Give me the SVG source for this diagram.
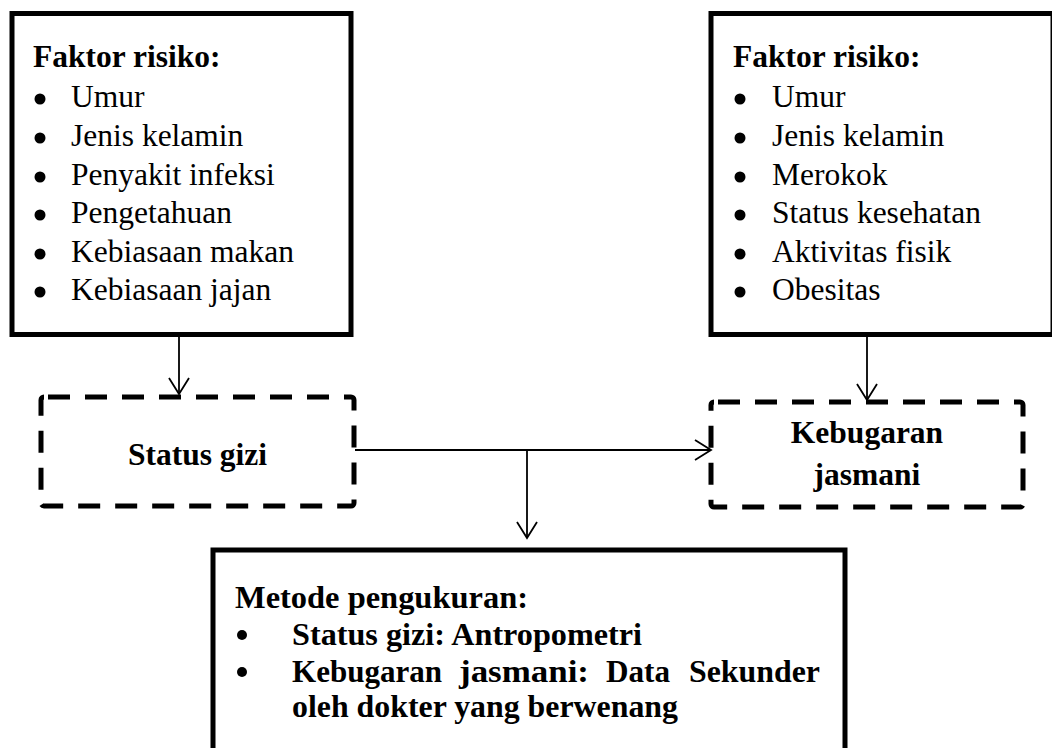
<svg xmlns="http://www.w3.org/2000/svg" width="1052" height="748" viewBox="0 0 1052 748">
<style>
.box{fill:#fff;stroke:#000;stroke-width:5}
.dash{fill:none;stroke:#000;stroke-width:5;stroke-dasharray:22 15;stroke-linejoin:round}
.conn{fill:none;stroke:#000;stroke-width:1.8}
.t{font-family:"Liberation Serif","Times New Roman",serif;font-size:31.5px;fill:#000}
.b{font-weight:bold}
.m{font-size:32px}
</style>
<defs>
<marker id="arr" markerWidth="20" markerHeight="24" refX="17" refY="11" orient="auto" markerUnits="userSpaceOnUse">
<path d="M1,1 L17,11 L1,21" fill="none" stroke="#000" stroke-width="1.8"/>
</marker>
</defs>
<rect width="1052" height="748" fill="#fff"/>
<g id="faktor-kiri">
<rect class="box" x="12" y="13.5" width="339" height="321"/>
<text class="t b" x="33" y="67">Faktor risiko:</text>
<g fill="#000"><circle cx="40" cy="99" r="5.5"/><circle cx="40" cy="138" r="5.5"/><circle cx="40" cy="177" r="5.5"/><circle cx="40" cy="215" r="5.5"/><circle cx="40" cy="254" r="5.5"/><circle cx="40" cy="292" r="5.5"/></g>
<text class="t" x="71" y="107">Umur</text>
<text class="t" x="71" y="146">Jenis kelamin</text>
<text class="t" x="71" y="185">Penyakit infeksi</text>
<text class="t" x="71" y="223">Pengetahuan</text>
<text class="t" x="71" y="262">Kebiasaan makan</text>
<text class="t" x="71" y="300">Kebiasaan jajan</text>
</g>
<g id="faktor-kanan">
<rect class="box" x="711" y="13.5" width="342" height="321"/>
<text class="t b" x="733" y="67">Faktor risiko:</text>
<g fill="#000"><circle cx="740" cy="99" r="5.5"/><circle cx="740" cy="138" r="5.5"/><circle cx="740" cy="177" r="5.5"/><circle cx="740" cy="215" r="5.5"/><circle cx="740" cy="254" r="5.5"/><circle cx="740" cy="292" r="5.5"/></g>
<text class="t" x="772" y="107">Umur</text>
<text class="t" x="772" y="146">Jenis kelamin</text>
<text class="t" x="772" y="185">Merokok</text>
<text class="t" x="772" y="223">Status kesehatan</text>
<text class="t" x="772" y="262">Aktivitas fisik</text>
<text class="t" x="772" y="300">Obesitas</text>
</g>
<g id="status-gizi">
<rect class="dash" x="41" y="397" width="313" height="109" rx="3" stroke-dashoffset="-4"/>
<text class="t b" x="197.5" y="465" text-anchor="middle">Status gizi</text>
</g>
<g id="kebugaran">
<rect class="dash" x="711" y="402" width="312" height="105" rx="3" stroke-dashoffset="-4"/>
<text class="t b" x="867" y="443" text-anchor="middle">Kebugaran</text>
<text class="t b" x="867" y="485" text-anchor="middle">jasmani</text>
</g>
<g id="metode">
<rect class="box" x="213" y="550" width="632" height="220"/>
<text class="t b m" x="235" y="608" textLength="293" lengthAdjust="spacingAndGlyphs">Metode pengukuran:</text>
<g fill="#000"><circle cx="242" cy="635" r="5"/><circle cx="242" cy="672" r="5"/></g>
<text class="t b m" x="292" y="645" textLength="350" lengthAdjust="spacingAndGlyphs">Status gizi: Antropometri</text>
<text class="t b m" x="292" y="682" textLength="150" lengthAdjust="spacingAndGlyphs">Kebugaran</text>
<text class="t b m" x="459" y="682" textLength="130" lengthAdjust="spacingAndGlyphs">jasmani:</text>
<text class="t b m" x="606" y="682" textLength="64" lengthAdjust="spacingAndGlyphs">Data</text>
<text class="t b m" x="689" y="682" textLength="131" lengthAdjust="spacingAndGlyphs">Sekunder</text>
<text class="t b m" x="292" y="717" textLength="386" lengthAdjust="spacingAndGlyphs">oleh dokter yang berwenang</text>
</g>
<g id="connectors">
<line class="conn" x1="179" y1="337" x2="179" y2="394" marker-end="url(#arr)"/>
<line class="conn" x1="867" y1="337" x2="867" y2="400" marker-end="url(#arr)"/>
<line class="conn" x1="355" y1="450" x2="711" y2="450" marker-end="url(#arr)"/>
<line class="conn" x1="527" y1="450" x2="527" y2="538" marker-end="url(#arr)"/>
</g>
</svg>
